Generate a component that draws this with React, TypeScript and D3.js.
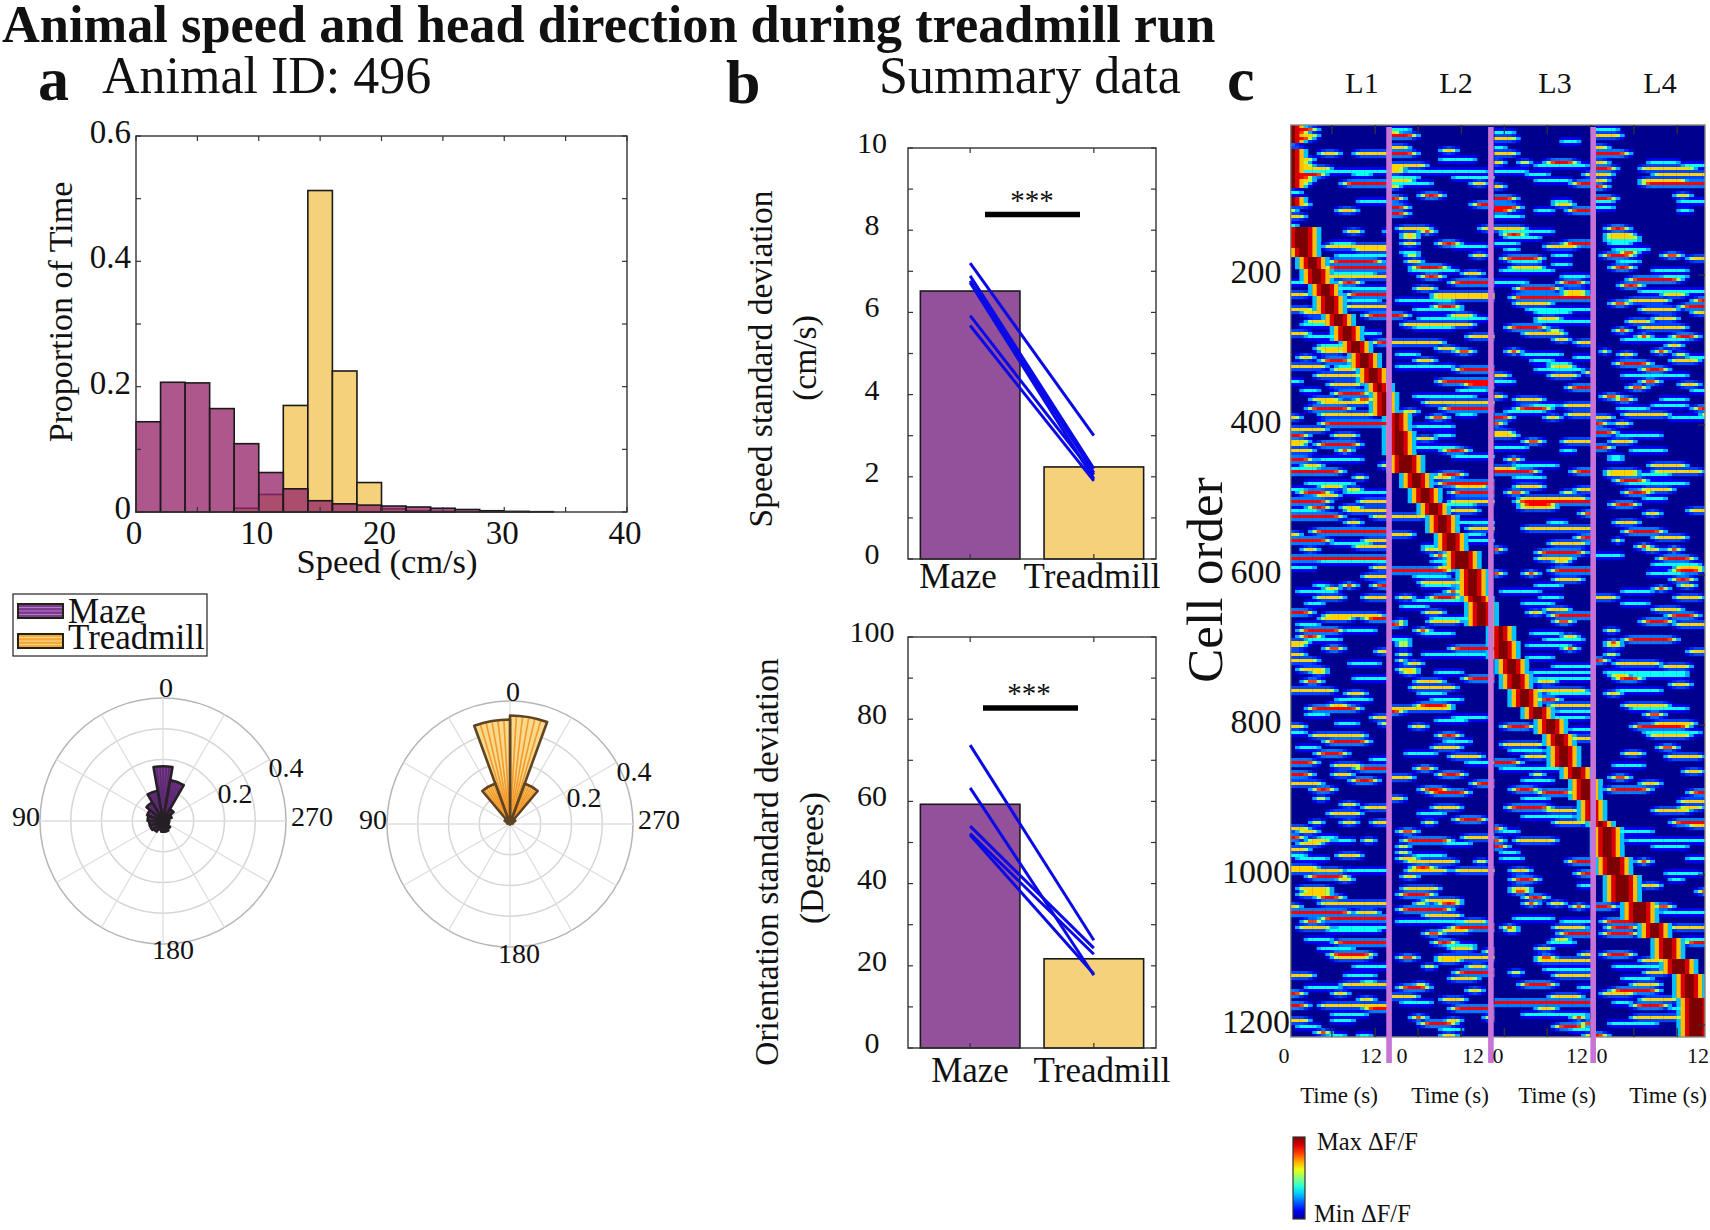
import { useMemo } from 'react'
import { scaleBand, scaleLinear, arc, lineRadial, range } from 'd3'

// Treadmill figure: speed histogram, head direction roses, summary bars and
// the sorted dF/F heatmap. All text is Liberation Serif to match the print.

const FONT = '"Liberation Serif", serif'
const INK = '#111'
const MAZE = '#93509b'
const TREAD = '#f5d27a'

const speedBins = range(0, 40, 2)
const mazeHist = [0.144, 0.207, 0.206, 0.165, 0.109, 0.063, 0.037, 0.018, 0.013, 0.011, 0.0095, 0.008, 0.006, 0.004, 0.002, 0.001, 0.0005, 0, 0, 0]
const treadHist = [0, 0, 0, 0, 0.006, 0.028, 0.17, 0.513, 0.225, 0.047, 0.005, 0.002, 0.001, 0, 0, 0, 0, 0, 0, 0]
const histXTicks = [0, 10, 20, 30, 40]
const histYTicks = [0, 0.2, 0.4, 0.6]

// rose bins: centre angle (deg, counter-clockwise from the top) and proportion
const mazeRoseAngles = [0, -20, 20, 40, -40, 60, 80, 100, 120, 140, 160, 180, -160, -140, -120, -100, -80, -60]
const mazeRose = [0.178, 0.135, 0.1, 0.07, 0.045, 0.055, 0.05, 0.045, 0.045, 0.04, 0.03, 0.035, 0.035, 0.03, 0.02, 0.02, 0.02, 0.03]
const treadRoseAngles = [-10, 10, -30, 30, -50, 50, 70, -70]
const treadRose = [0.353, 0.34, 0.14, 0.14, 0.02, 0.02, 0.01, 0.01]

const barCats = ['Maze', 'Treadmill']
const speedSdBars = [6.52, 2.24]
const speedSdStart = [7.2, 6.89, 6.77, 6.72, 5.92, 5.68]
const speedSdEnd = [3.0, 2.2, 2.1, 1.95, 2.05, 1.9]
const orientSdBars = [59.3, 21.7]
const orientSdStart = [73.7, 63.3, 54, 52.2, 51.8]
const orientSdEnd = [26.2, 17.7, 24.3, 22.8, 18]

// heatmap: 4 cells per row, 0.5 s per bin, four 12 s laps run together
const rowCount = 304
const cellTicks = [200, 400, 600, 800, 1000, 1200]
const lapEdges = [22.7, 46.2, 69.8]
const lapStarts = [0, 23, 47, 70]
const lapEnds = [22, 46, 69, 96]
const heatTicks = [9.5, 19.5, 29.4, 39.4, 49.3, 59.2, 69.2, 79.2, 89.2]

// sequence ridge: [rowStart, rowEnd, binStart, binEnd)
const ridge = [
  [0, 6, 0, 1], [8, 12, 0, 1], [12, 21, 0, 1], [24, 27, 0, 1],
  [34, 41, 1, 4], [41, 44, 2, 4], [44, 48, 4, 6], [48, 53, 5, 7], [53, 57, 7, 9], [57, 63, 8, 10], [63, 67, 10, 12], [67, 72, 12, 14],
  [72, 76, 14, 16], [76, 81, 16, 18], [81, 86, 18, 20], [86, 89, 20, 21], [89, 97, 21, 22], [96, 102, 24, 25], [102, 110, 24, 26],
  [110, 116, 25, 28], [116, 121, 28, 30], [121, 126, 30, 32], [126, 130, 32, 34], [130, 136, 34, 36], [136, 142, 36, 38], [142, 148, 38, 41],
  [148, 157, 41, 43], [157, 159, 42, 44], [159, 167, 43, 45], [167, 172, 48, 49], [172, 178, 48, 50], [178, 183, 50, 52], [183, 188, 51, 53],
  [188, 194, 53, 55], [194, 198, 56, 58], [198, 203, 59, 61], [203, 207, 61, 63], [207, 214, 62, 64], [214, 218, 65, 67], [218, 225, 67, 69],
  [225, 232, 69, 70], [232, 234, 71, 72], [234, 244, 72, 74], [244, 250, 73, 76], [250, 259, 75, 78], [259, 266, 79, 82], [266, 271, 83, 85],
  [271, 278, 86, 88], [278, 283, 88, 91], [283, 291, 91, 93], [291, 304, 92, 95],
]

// transients per lap: [row, binStart, binEnd, level] (1 cyan, 2 yellow, 3 red, 4 dark red)
const lap1 = [
  [0,0,1,4],[1,0,6,3],[2,0,4,3],[3,0,6,2],[4,0,5,3],[5,0,2,3],[8,0,3,2],[9,0,1,3],[9,6,11,2],[9,14,22,2],[10,0,1,3],[11,0,5,2],[12,0,4,2],[13,0,5,2],[14,0,9,2],[15,0,22,1],[16,0,8,3],[16,14,18,1],[17,0,5,3],[18,0,5,2],[19,0,4,2],[19,11,22,3],[20,0,1,3],[22,0,2,1],[24,0,3,1],[25,0,2,3],[25,15,22,1],[26,0,4,2],[28,0,1,2],[28,10,15,2],[30,0,3,2],[33,0,1,1],
  [35,12,16,2],[35,21,22,3],[39,9,14,1],[40,7,22,2],[41,14,22,2],[43,10,22,1],[45,8,21,3],[47,7,22,3],[49,9,19,1],[50,7,22,2],[52,10,16,3],[52,0,3,1],[54,10,22,1],[56,0,4,2],[56,12,22,3],[58,12,20,1],[60,12,22,2],[61,0,5,2],[62,2,8,2],[63,16,22,3],[65,3,9,2],[66,2,10,1],[69,0,4,2],[69,16,20,1],[70,3,10,1],[72,18,22,3],[73,6,14,1],[74,5,14,2],[75,6,12,2],[77,1,5,2],
  [78,6,14,3],[80,0,8,2],[80,10,15,1],[81,9,15,2],[83,5,16,2],[85,0,2,1],[86,8,16,2],[88,2,6,1],[89,9,18,3],[91,4,11,2],[91,14,19,3],[92,6,18,2],[94,3,14,3],[96,6,19,2],[97,0,2,2],[99,6,22,3],[101,0,8,2],[103,0,4,3],[103,9,15,2],[105,0,4,2],[106,0,3,2],[106,5,16,3],[108,0,5,2],[108,10,14,3],[111,0,5,3],[111,6,16,1],[113,2,7,2],[113,20,22,2],[114,0,6,1],[115,0,12,3],[117,14,17,2],[119,3,14,1],[120,6,12,2],[121,12,16,2],[121,0,3,1],[122,1,9,3],[122,12,22,1],[123,5,11,2],[125,0,9,3],[125,15,22,2],[127,3,9,3],[127,11,16,2],[128,0,6,1],[128,12,22,2],[130,0,12,3],[130,18,22,2],[132,12,16,2],[135,4,22,3],[136,0,2,2],[138,0,9,3],[138,16,22,2],[139,9,18,1],[140,14,22,2],[141,2,6,2],[144,0,22,3],[145,6,22,1],[147,0,5,1],[147,18,22,2],[150,16,22,2],[153,11,15,3],[153,18,22,3],[153,5,8,1],[154,7,11,2],[155,1,10,1],
  [157,5,12,2],[157,16,22,2],[159,3,7,1],[162,0,5,3],[163,7,21,2],[164,6,14,2],[164,16,22,3],[166,1,6,1],[168,1,12,3],[168,12,19,1],[170,1,7,3],[171,3,11,1],[172,0,4,2],[173,0,3,2],[174,7,12,3],[175,19,22,2],[176,0,3,2],[178,0,6,2],[179,13,20,1],[181,1,8,2],[182,4,8,2],[184,14,22,1],[185,2,7,3],[188,0,10,2],[189,12,17,2],[191,10,18,1],[193,8,13,2],[194,3,16,3],[196,3,8,1],[197,18,22,2],[199,10,15,1],[199,20,22,2],[200,0,3,2],[202,0,3,1],[203,4,17,2],[205,7,18,3],[207,1,6,1],[209,5,13,3],[211,18,22,1],[212,0,6,3],[213,9,16,2],[214,14,22,3],[216,0,5,3],[216,9,14,2],[218,13,20,3],[219,0,7,2],[221,4,10,3],[224,5,8,2],[226,11,15,2],[227,16,22,2],[229,8,16,2],[232,4,7,2],[232,11,15,2],[232,18,22,2],[234,0,4,2],
  [235,1,6,2],[237,0,3,3],[237,6,10,1],[238,3,9,2],[238,16,19,3],[238,10,14,1],[239,1,7,2],[241,0,4,2],[243,10,16,2],[243,0,3,1],[244,1,8,1],[247,0,6,2],[248,0,12,2],[248,12,22,1],[250,3,13,3],[251,10,14,2],[254,1,9,2],[255,2,9,2],[256,1,9,2],[257,5,12,3],[259,6,22,2],[260,0,2,2],[262,0,14,3],[262,14,20,2],[264,6,22,3],[265,2,7,3],[267,1,9,2],[267,10,22,1],[268,8,20,1],[271,3,9,1],[272,9,22,3],[274,6,14,1],[276,8,19,3],[277,9,18,2],[280,14,22,1],[283,0,5,2],[283,12,19,1],[285,16,19,1],[286,11,22,2],[287,3,11,1],[289,0,3,3],[289,9,13,2],[291,15,19,2],[293,0,4,3],[293,6,22,2],[294,16,22,3],[296,9,17,1],[298,0,4,2],[298,9,14,1],[300,1,6,1],[302,5,9,3],[303,8,12,1],[303,15,18,1],
]
const lap2 = [
  [1,23,27,1],[2,23,25,2],[3,23,29,3],[7,23,27,2],[8,34,38,2],[9,23,29,3],[11,34,42,1],[13,23,31,2],[14,23,26,2],[15,23,26,2],[15,26,45,1],[17,23,29,1],[17,37,46,1],[18,23,28,2],[19,23,32,1],[19,41,45,2],[20,23,25,2],[23,29,35,3],[24,23,26,3],[26,41,46,3],[27,23,27,3],[29,23,27,3],
  [34,24,32,2],[34,43,46,2],[35,29,33,3],[36,25,29,2],[37,25,29,2],[39,25,29,2],[39,33,39,3],[40,37,45,1],[42,25,29,1],[43,26,29,3],[43,41,45,2],[45,26,30,2],[47,27,36,3],[48,27,38,1],[49,39,44,2],[50,29,35,3],[52,36,46,3],[54,28,33,2],[56,32,46,2],[57,32,46,2],[58,24,37,1],[60,32,39,3],[61,28,39,1],[63,23,27,3],[63,36,42,2],[64,29,45,1],[66,25,42,2],[67,28,37,1],[70,40,46,2],[72,23,35,2],[74,33,38,2],[75,37,42,3],[76,24,29,1],
  [78,28,33,2],[80,24,37,1],[81,37,46,3],[85,33,46,3],[86,39,46,3],[88,38,45,1],[90,28,42,1],[92,30,46,2],[94,34,46,3],[95,25,29,2],[96,38,42,1],[97,31,36,3],[100,28,37,1],[103,33,37,1],[104,28,33,2],[107,28,38,1],[108,34,41,3],[110,37,46,1],[116,33,40,3],[114,23,25,2],[117,32,37,2],[119,33,46,3],[120,37,45,2],[122,36,46,3],[125,36,46,2],[126,35,42,1],[128,36,43,2],[130,23,31,2],[132,38,46,1],[134,40,46,2],[136,23,28,2],[136,40,44,1],[138,40,46,1],[140,30,33,1],[141,30,34,2],[143,32,36,3],[145,32,38,1],[147,33,39,2],[148,23,37,3],[150,28,36,1],[152,29,39,2],[153,30,37,1],[155,35,39,3],
  [157,24,28,2],[157,31,39,3],[158,28,39,1],[160,25,31,1],[162,30,35,2],[164,32,41,1],[165,31,39,2],[165,24,26,2],[166,23,26,3],[168,28,32,3],[169,30,37,1],[171,23,27,1],[172,24,27,2],[173,24,27,2],[174,36,46,3],[176,24,27,2],[176,30,45,1],[178,24,26,3],[179,26,30,2],[181,24,29,2],[182,25,29,2],[182,33,39,1],[184,39,46,3],[185,28,35,2],[187,27,38,2],[189,29,35,1],[191,32,39,1],[193,28,37,3],[194,23,37,2],[195,23,26,3],[197,37,45,1],[198,33,40,1],[200,27,31,2],[203,33,39,3],[205,35,41,1],[207,32,39,2],[209,26,33,1],[210,36,44,2],[212,40,46,1],[214,28,33,3],[216,33,40,3],[217,23,28,2],[219,41,46,3],[221,29,36,3],[222,31,41,3],[224,23,26,2],[227,32,39,2],[229,29,35,1],[231,37,45,3],[232,30,33,3],
  [235,24,29,3],[237,39,46,2],[238,25,37,3],[239,35,41,1],[240,24,27,3],[242,24,27,3],[243,28,35,1],[244,24,29,2],[245,26,38,2],[245,42,45,2],[247,27,33,3],[248,26,36,2],[248,37,46,2],[250,25,29,2],[254,25,34,2],[256,24,33,3],[258,30,39,2],[259,28,31,2],[259,33,39,3],[261,24,37,3],[263,30,39,2],[265,24,45,1],[265,39,45,2],[267,36,46,3],[268,34,41,2],[269,30,35,3],[272,32,38,3],[273,35,42,1],[274,36,42,2],[275,44,46,3],[277,24,29,3],[277,33,46,2],[278,33,39,2],[280,30,33,2],[280,40,45,2],[282,37,46,3],[284,36,43,2],[286,28,31,2],[287,24,32,3],[288,40,44,2],[290,23,29,2],[291,34,40,2],[292,25,32,1],[294,36,46,3],[297,27,31,3],[297,44,46,3],[298,35,39,2],[299,29,38,3],[301,34,39,1],[303,34,38,2],
]
const lap3 = [
  [2,47,51,1],[4,47,52,2],[5,62,66,1],[7,47,49,1],[9,47,52,2],[12,47,49,2],[12,52,55,2],[12,58,66,3],[13,56,68,1],[15,47,54,1],[16,54,59,1],[16,67,69,3],[18,56,64,1],[19,64,69,3],[20,47,49,2],[24,47,52,3],[25,60,64,1],[26,60,65,2],[27,47,53,3],[28,47,51,3],[28,56,60,1],[28,63,69,3],[30,47,53,1],
  [34,47,54,2],[35,48,60,1],[36,48,54,3],[37,49,57,1],[39,62,69,3],[39,47,52,1],[40,58,66,2],[41,49,52,1],[43,60,64,1],[44,48,58,3],[45,50,57,1],[46,60,64,1],[47,50,58,2],[48,48,60,1],[50,62,68,1],[52,61,68,3],[52,47,54,1],[54,51,62,3],[56,62,68,2],[55,62,68,2],[57,50,69,3],[59,51,60,2],[61,54,69,1],[62,56,64,1],[64,56,62,2],[65,56,69,1],[67,49,59,3],[68,59,62,3],[69,53,63,2],[71,60,64,2],[72,65,69,2],[75,49,53,3],[76,53,62,1],[77,65,69,1],
  [78,55,60,1],[79,59,64,1],[80,59,65,2],[81,56,67,1],[82,67,69,3],[83,47,50,2],[83,59,66,2],[85,47,51,1],[87,63,69,3],[90,47,49,2],[91,51,58,2],[93,55,61,1],[93,62,69,2],[94,51,60,3],[95,49,58,1],[96,63,69,2],[97,58,62,2],[97,47,51,3],[99,47,49,3],[102,47,51,2],[103,47,52,2],[105,53,58,3],[105,62,69,2],[107,47,54,1],[108,62,65,1],[111,49,53,3],[113,51,61,1],[114,47,52,2],[115,47,57,3],[115,64,69,3],[117,51,58,1],[120,51,58,2],[121,65,69,2],[122,49,54,3],[122,62,65,3],[124,52,68,2],[125,51,69,3],[126,52,61,3],[127,52,61,2],[129,66,69,3],[132,59,63,1],[134,53,69,2],[137,65,69,3],[139,59,68,2],[141,47,49,3],[142,56,68,3],[144,56,65,2],[145,60,64,2],[148,59,69,3],[149,47,49,3],[149,53,57,3],[151,60,67,2],[153,56,62,1],[155,48,57,1],
  [157,57,62,1],[159,53,60,1],[161,58,64,2],[162,54,58,2],[163,59,69,3],[165,60,65,3],[169,55,62,1],[170,62,66,2],[171,58,67,1],[173,54,64,1],[174,62,66,3],[177,54,60,1],[180,60,69,1],[182,55,69,1],[184,56,69,1],[185,56,61,2],[188,56,68,2],[189,59,69,1],[191,56,62,3],[193,59,69,2],[195,61,69,1],[197,60,68,1],[200,48,56,3],[201,64,69,1],[204,64,69,2],[206,48,58,2],[208,50,58,1],[210,53,59,2],[212,47,53,3],[214,48,62,1],[216,55,58,2],[218,53,60,1],[221,50,57,3],[222,56,65,3],[224,53,59,1],[227,49,60,3],[228,58,66,2],[230,53,65,1],[232,60,68,2],[234,47,49,3],
  [235,48,52,1],[238,51,61,2],[238,47,49,3],[240,47,50,3],[242,48,52,1],[244,48,53,1],[245,63,69,3],[248,50,55,2],[249,65,69,3],[251,50,57,3],[253,66,69,1],[254,50,55,2],[255,50,55,3],[257,53,59,3],[259,53,57,3],[259,59,63,2],[260,64,68,3],[264,51,60,1],[265,62,69,1],[267,48,52,3],[267,60,68,2],[268,49,52,2],[269,61,69,3],[271,60,64,2],[272,59,65,1],[274,56,60,2],[276,66,69,2],[277,56,61,3],[278,56,69,2],[281,58,69,1],[282,50,53,3],[283,60,69,2],[286,52,61,3],[287,66,69,1],[290,59,67,2],[292,47,69,3],[294,56,61,2],[296,53,68,1],[297,64,68,3],[299,66,69,3],[300,60,68,3],[301,64,69,1],[303,67,69,2],
]
const lap4 = [
  [1,70,75,1],[3,70,76,2],[7,70,73,2],[9,70,78,3],[12,70,73,2],[12,82,89,1],[13,90,96,1],[14,70,75,3],[14,80,93,2],[16,70,74,2],[16,83,96,2],[18,70,73,2],[18,80,91,2],[19,80,96,3],[20,70,73,3],[23,88,92,2],[24,70,75,3],[25,70,74,1],[25,89,96,1],[27,70,74,1],[28,89,92,1],
  [34,72,78,3],[36,72,79,2],[37,72,80,2],[38,72,80,1],[39,73,78,1],[41,74,82,1],[42,75,80,3],[43,71,79,3],[43,85,90,3],[44,91,96,2],[45,75,80,1],[47,73,79,3],[48,83,91,1],[50,85,91,1],[51,77,90,3],[53,75,81,3],[55,80,96,1],[56,85,91,2],[58,77,87,2],[58,92,96,3],[59,73,78,3],[60,89,96,3],[61,80,89,2],[62,92,96,2],[64,83,89,2],[65,77,83,2],[67,80,91,2],[68,74,78,3],[70,87,94,3],[70,79,83,3],[71,76,91,1],[73,86,90,2],[75,83,87,3],[75,71,73,3],[76,75,79,2],[76,88,91,2],[77,91,96,1],
  [78,87,94,2],[79,74,83,3],[81,80,87,3],[83,76,91,1],[85,80,85,3],[86,89,94,2],[87,77,82,3],[88,92,96,1],[90,71,76,3],[91,74,79,3],[91,85,91,1],[93,83,91,1],[94,75,82,1],[94,92,96,3],[96,76,87,2],[96,94,96,3],[97,70,74,2],[97,87,96,1],[99,70,73,3],[99,74,78,2],[102,70,75,3],[103,75,85,1],[105,73,79,2],[107,70,74,3],[108,78,86,1],[110,73,76,1],[111,73,76,1],[113,82,91,2],[115,72,80,2],[116,72,80,2],[115,83,95,2],[116,80,87,1],[118,74,82,3],[119,77,91,1],[121,80,88,2],[122,76,83,3],[124,81,86,1],[126,73,80,3],[128,91,96,2],[129,81,85,2],[132,74,80,2],[135,76,86,3],[137,83,91,2],[138,74,76,2],[140,79,83,3],[141,81,85,2],[141,86,90,3],[143,70,76,1],[144,84,93,3],[146,83,94,1],[148,87,95,3],[147,88,95,2],[149,82,90,1],[151,87,93,3],[153,89,93,2],[154,83,87,3],[155,76,83,1],
  [157,70,75,2],[157,88,95,2],[159,76,82,1],[161,83,90,2],[163,86,94,3],[165,80,88,3],[166,88,96,2],[168,72,75,3],[171,76,89,3],[172,72,76,3],[173,72,76,2],[175,91,96,2],[176,72,75,3],[178,70,73,3],[179,74,85,2],[180,85,92,2],[182,72,91,1],[183,73,78,2],[183,78,91,1],[184,74,81,3],[186,87,92,2],[188,75,85,1],[189,72,76,2],[193,76,87,2],[194,78,91,1],[196,81,86,3],[199,83,93,2],[200,78,92,3],[202,81,94,1],[203,82,92,2],[207,84,89,3],[209,76,81,2],[210,86,95,2],[213,74,81,1],[215,90,95,2],[217,73,78,3],[219,80,85,2],[221,72,83,3],[222,91,96,3],[225,89,96,2],[227,89,95,2],[228,83,92,2],[232,87,96,3],[233,91,96,2],
  [235,75,83,1],[238,77,96,1],[240,83,91,1],[245,79,83,3],[244,91,96,1],[249,86,94,1],[251,87,90,1],[253,80,85,2],[255,93,96,3],[260,70,75,3],[260,83,88,3],[262,85,96,1],[265,71,81,3],[267,72,80,3],[267,87,96,2],[269,71,80,3],[271,90,96,1],[272,90,96,3],[276,71,79,3],[278,80,86,2],[280,74,85,1],[282,81,87,2],[284,76,83,1],[286,78,85,2],[288,73,85,3],[289,71,79,2],[291,80,89,2],[292,74,78,1],[293,78,87,3],[294,87,91,1],[297,78,90,2],[299,73,84,1],[303,70,73,3],
]

const levelPeak = [0, 0.37, 0.66, 0.86, 1]
const jet = scaleLinear<string>()
  .domain([0, 0.11, 0.36, 0.62, 0.86, 1])
  .range(['#00008f', '#0000ff', '#00ffff', '#ffff00', '#ff0000', '#7f0000'])

function buildHeat() {
  const grid = range(rowCount).map(() => new Array(96).fill(0))
  const put = (r: number, b: number, v: number) => {
    if (r >= 0 && r < rowCount && b >= 0 && b < 96) grid[r][b] = Math.max(grid[r][b], v)
  }
  for (const [r, b0, b1, lvl] of [...lap1, ...lap2, ...lap3, ...lap4]) {
    const openLeft = lapStarts.includes(b0)
    const openRight = lapEnds.includes(b1)
    for (let b = b0; b <= b1; b++) {
      const d = Math.min(openLeft ? 99 : b - b0, openRight ? 99 : b1 - b)
      const v = Math.min(levelPeak[lvl], 0.28 + 0.26 * d)
      put(r, b, v)
      // the image was resampled: each transient bleeds a little into its neighbours
      put(r - 1, b, v * 0.27)
      put(r + 1, b, v * 0.27)
    }
  }
  const halo = [1, 0.9, 0.68, 0.3]
  for (const [r0, r1, b0, b1] of ridge) {
    for (let r = r0; r < r1; r++) {
      for (let b = b0 - 3; b < b1 + 3; b++) {
        const d = b < b0 ? b0 - b : b >= b1 ? b - b1 + 1 : 0
        put(r, b, halo[d])
      }
    }
  }
  return grid
}

function Txt({ x, y, size, anchor = 'middle', weight, rotate, children }: any) {
  return (
    <text
      x={x}
      y={y}
      fontSize={size}
      textAnchor={anchor}
      fontWeight={weight}
      fill={INK}
      transform={rotate ? `rotate(${rotate}, ${x}, ${y})` : undefined}
    >
      {children}
    </text>
  )
}

function Histogram() {
  const x = scaleLinear().domain([0, 40]).range([136, 627])
  const y = scaleLinear().domain([0, 0.6]).range([512, 136])
  return (
    <g>
      {treadHist.map((v, i) => (
        <rect key={i} x={x(speedBins[i])} y={y(v)} width={x(2) - x(0)} height={y(0) - y(v)} fill={TREAD} stroke="#1a1a1a" strokeWidth={1.6} />
      ))}
      {mazeHist.map((v, i) => (
        <rect key={i} x={x(speedBins[i])} y={y(v)} width={x(2) - x(0)} height={y(0) - y(v)} fill="#95246a" fillOpacity={0.77} stroke="#1a1a1a" strokeWidth={1.6} />
      ))}
      <rect x={136} y={136} width={491} height={376} fill="none" stroke="#333" strokeWidth={1.4} />
      {range(0, 45, 5).map((t) => (
        <g key={t} stroke="#333" strokeWidth={1.2}>
          <line x1={x(t)} x2={x(t)} y1={512} y2={507} />
          <line x1={x(t)} x2={x(t)} y1={136} y2={141} />
        </g>
      ))}
      {range(0, 0.65, 0.1).map((t) => (
        <g key={t} stroke="#333" strokeWidth={1.2}>
          <line x1={136} x2={141} y1={y(t)} y2={y(t)} />
          <line x1={627} x2={622} y1={y(t)} y2={y(t)} />
        </g>
      ))}
      {histXTicks.map((t) => (
        <Txt key={t} x={x(t) - 2} y={544} size={33}>{t}</Txt>
      ))}
      {histYTicks.map((t) => (
        <Txt key={t} x={131} y={y(t) + 7} size={33} anchor="end">{t}</Txt>
      ))}
      <Txt x={387} y={573} size={34.5}>Speed (cm/s)</Txt>
      <Txt x={72} y={312} size={34} rotate={-90}>Proportion of Time</Txt>
    </g>
  )
}

function Legend() {
  const rows = [
    { label: 'Maze', fill: '#7c3b91', stripe: '#b07fc0', top: 604, base: 623 },
    { label: 'Treadmill', fill: '#f5a93a', stripe: '#fad98f', top: 634, base: 649 },
  ]
  return (
    <g>
      <rect x={13} y={594} width={194} height={62} fill="#fff" stroke="#222" strokeWidth={1.2} />
      {rows.map((r) => (
        <g key={r.label}>
          <rect x={18} y={r.top} width={45} height={14} fill={r.fill} stroke="#221" strokeWidth={2} />
          {[3.5, 7, 10.5].map((o) => (
            <line key={o} x1={19} x2={62} y1={r.top + o} y2={r.top + o} stroke={r.stripe} strokeWidth={1} />
          ))}
          <Txt x={68} y={r.base} size={35} anchor="start">{r.label}</Txt>
        </g>
      ))}
    </g>
  )
}

function Rose({ cx, cy, angles, values, fill, stripe, edge, labels }: any) {
  const R = 123
  const r = scaleLinear().domain([0, 0.4]).range([0, R])
  const wedge = arc<any>()
  const spoke = lineRadial<any>()
  return (
    <g>
      <g transform={`translate(${cx},${cy})`}>
        {[0.4, 0.3, 0.2, 0.1].map((t) => (
          <circle key={t} r={r(t)} fill="none" stroke={t === 0.4 ? '#b5b5b5' : '#d6d6d6'} strokeWidth={1.5} />
        ))}
        {range(0, 360, 30).map((a) => (
          <line
            key={a}
            x2={R * Math.sin((a * Math.PI) / 180)}
            y2={-R * Math.cos((a * Math.PI) / 180)}
            stroke="#dedede"
            strokeWidth={1.3}
          />
        ))}
        {values.map((v: number, i: number) => {
          const a = (-angles[i] * Math.PI) / 180
          const half = (10 * Math.PI) / 180
          const d = wedge({ innerRadius: 0, outerRadius: r(v), startAngle: a - half, endAngle: a + half })
          return (
            <g key={i}>
              <path d={d ?? ''} fill={fill} />
              {[-0.66, -0.33, 0, 0.33, 0.66].map((o) => (
                <path
                  key={o}
                  d={spoke([[a + o * half, 0], [a + o * half, r(v)]]) ?? ''}
                  stroke={stripe}
                  strokeWidth={1.6}
                  fill="none"
                />
              ))}
              <path d={d ?? ''} fill="none" stroke={edge} strokeWidth={2.6} strokeLinejoin="round" />
            </g>
          )
        })}
      </g>
      {labels.map((l: any) => (
        <Txt key={l.text} x={l.x} y={l.y + 10} size={28}>{l.text}</Txt>
      ))}
    </g>
  )
}

function SummaryBars({ top, bottom, max, step, labelStep, bars, start, end, sigY, sigX, starY, starX, labelX, catX, catY, title1, title2, t1x, t2x, ty }: any) {
  const x = scaleBand().domain(barCats).range([908, 1156]).paddingInner(0.195).paddingOuter(0.1)
  const y = scaleLinear().domain([0, max]).range([bottom, top])
  const mid = (c: string) => (x(c) ?? 0) + x.bandwidth() / 2
  return (
    <g>
      {barCats.map((c, i) => (
        <rect key={c} x={x(c)} y={y(bars[i])} width={x.bandwidth()} height={bottom - y(bars[i])} fill={i === 0 ? MAZE : TREAD} stroke="#1a1a1a" strokeWidth={1.6} />
      ))}
      <rect x={908} y={top} width={248} height={bottom - top} fill="none" stroke="#333" strokeWidth={1.4} />
      {range(0, max + step / 2, step).map((t) => (
        <g key={t} stroke="#333" strokeWidth={1.2}>
          <line x1={908} x2={913} y1={y(t)} y2={y(t)} />
          <line x1={1156} x2={1151} y1={y(t)} y2={y(t)} />
        </g>
      ))}
      {barCats.map((c) => (
        <g key={c} stroke="#333" strokeWidth={1.2}>
          <line x1={mid(c)} x2={mid(c)} y1={bottom} y2={bottom - 5} />
          <line x1={mid(c)} x2={mid(c)} y1={top} y2={top + 5} />
        </g>
      ))}
      {start.map((s: number, i: number) => (
        <line key={i} x1={mid('Maze')} x2={mid('Treadmill')} y1={y(s)} y2={y(end[i])} stroke="#0a0ae6" strokeWidth={3} />
      ))}
      <line x1={sigX[0]} x2={sigX[1]} y1={sigY} y2={sigY} stroke="#000" strokeWidth={5.5} />
      <Txt x={starX} y={starY} size={29}>***</Txt>
      {range(0, max + labelStep / 2, labelStep).map((t) => (
        <Txt key={t} x={labelX} y={y(t) + 5} size={30}>{t}</Txt>
      ))}
      {barCats.map((c, i) => (
        <Txt key={c} x={catX[i]} y={catY} size={35}>{c}</Txt>
      ))}
      <Txt x={t1x} y={ty[0]} size={33.5} rotate={-90}>{title1}</Txt>
      <Txt x={t2x} y={ty[1]} size={33.5} rotate={-90}>{title2}</Txt>
    </g>
  )
}

function Heatmap() {
  const grid = useMemo(buildHeat, [])
  const x = scaleLinear().domain([0, 96]).range([1290.7, 1706.7])
  const cellY = scaleLinear().domain([0, rowCount * 4]).range([125, 1037])
  const h = cellY(4) - cellY(0)
  const w = x(1) - x(0)
  const tickLabels = [
    { t: '0', x: 1284 }, { t: '12', x: 1371 }, { t: '0', x: 1402 }, { t: '12', x: 1473 },
    { t: '0', x: 1498 }, { t: '12', x: 1577 }, { t: '0', x: 1602 }, { t: '12', x: 1698 },
  ]
  return (
    <g>
      <defs>
        <clipPath id="heat-clip"><rect x={1290.7} y={125} width={414.3} height={912} /></clipPath>
        <filter id="heat-soft" x="0" y="0" width="1" height="1"><feGaussianBlur stdDeviation="0.6" /></filter>
        <linearGradient id="jet-bar" x1="0" x2="0" y1="1" y2="0">
          {range(0, 1.01, 0.1).map((t) => <stop key={t} offset={t} stopColor={jet(t)} />)}
        </linearGradient>
      </defs>
      <g clipPath="url(#heat-clip)">
        <g filter="url(#heat-soft)">
          <rect x={1290.7} y={125} width={414.3} height={912} fill={jet(0)} />
          {grid.map((row, r) =>
            row.map((v: number, b: number) =>
              v > 0 ? <rect key={`${r}-${b}`} x={x(b)} y={cellY(r * 4)} width={w + 0.3} height={h + 0.2} fill={jet(v)} /> : null,
            ),
          )}
        </g>
      </g>
      <rect x={1290.7} y={125} width={414.3} height={912} fill="none" stroke="#8a8a80" strokeWidth={1.4} />
      {heatTicks.map((t) => (
        <g key={t} stroke="#333" strokeWidth={1.3}>
          <line x1={x(t)} x2={x(t)} y1={125} y2={134} />
          <line x1={x(t)} x2={x(t)} y1={1037} y2={1028} />
        </g>
      ))}
      {cellTicks.map((t) => (
        <g key={t}>
          <line x1={1705} x2={1698} y1={cellY(t)} y2={cellY(t)} stroke="#333" strokeWidth={1.2} />
          <Txt x={1256} y={cellY(t) + 8} size={34}>{t}</Txt>
        </g>
      ))}
      {lapEdges.map((b) => (
        <rect key={b} x={x(b) - 2.8} y={127} width={5.6} height={936} fill="#c774d6" />
      ))}
      {tickLabels.map((l, i) => (
        <Txt key={i} x={l.x} y={1063} size={22}>{l.t}</Txt>
      ))}
      {[1339, 1450, 1557, 1668].map((cx) => (
        <Txt key={cx} x={cx} y={1103} size={23}>Time (s)</Txt>
      ))}
      {[['L1', 1362], ['L2', 1456], ['L3', 1555], ['L4', 1660]].map(([t, cx]) => (
        <Txt key={t} x={cx} y={93} size={30}>{t}</Txt>
      ))}
      <Txt x={1222} y={580} size={51} rotate={-90}>Cell order</Txt>
      <rect x={1293} y={1137} width={12} height={82} fill="url(#jet-bar)" stroke="#333" strokeWidth={1.2} />
      <Txt x={1317} y={1150} size={24.5} anchor="start">Max ΔF/F</Txt>
      <Txt x={1314} y={1222} size={24.5} anchor="start">Min ΔF/F</Txt>
    </g>
  )
}

export default function App() {
  return (
    <svg
      width={1710}
      height={1230}
      viewBox="0 0 1710 1230"
      style={{ position: 'absolute', left: 0, top: 0, background: '#fff', fontFamily: FONT }}
    >
      <Txt x={2} y={42} size={52.4} anchor="start" weight="bold">
        Animal speed and head direction during treadmill run
      </Txt>
      <Txt x={38} y={100} size={62} anchor="start" weight="bold">a</Txt>
      <Txt x={726} y={103} size={62} anchor="start" weight="bold">b</Txt>
      <Txt x={1227} y={100} size={62} anchor="start" weight="bold">c</Txt>
      <Txt x={102} y={93} size={52} anchor="start">Animal ID: 496</Txt>
      <Txt x={879} y={93} size={52} anchor="start">Summary data</Txt>

      <Histogram />
      <Legend />
      <Rose
        cx={163}
        cy={821}
        angles={mazeRoseAngles}
        values={mazeRose}
        fill="#7c3b91"
        stripe="#5b2a70"
        edge="#262026"
        labels={[
          { text: '0', x: 166, y: 687 }, { text: '0.4', x: 286, y: 767 }, { text: '0.2', x: 235, y: 793 },
          { text: '90', x: 26, y: 816 }, { text: '270', x: 312, y: 816 }, { text: '180', x: 173, y: 949 },
        ]}
      />
      <Rose
        cx={510}
        cy={824}
        angles={treadRoseAngles}
        values={treadRose}
        fill="#f9d98b"
        stripe="#f39a2c"
        edge="#5f4424"
        labels={[
          { text: '0', x: 513, y: 691 }, { text: '0.4', x: 634, y: 771 }, { text: '0.2', x: 584, y: 797 },
          { text: '90', x: 373, y: 819 }, { text: '270', x: 659, y: 819 }, { text: '180', x: 519, y: 953 },
        ]}
      />
      <SummaryBars
        top={148}
        bottom={559}
        max={10}
        step={1}
        labelStep={2}
        bars={speedSdBars}
        start={speedSdStart}
        end={speedSdEnd}
        sigY={214.5}
        sigX={[985, 1080]}
        starY={210}
        starX={1032}
        labelX={872}
        catX={[958, 1092]}
        catY={588}
        title1="Speed standard deviation"
        title2="(cm/s)"
        t1x={772}
        t2x={816}
        ty={[359, 358]}
      />
      <SummaryBars
        top={637}
        bottom={1048}
        max={100}
        step={10}
        labelStep={20}
        bars={orientSdBars}
        start={orientSdStart}
        end={orientSdEnd}
        sigY={708}
        sigX={[983, 1078]}
        starY={703}
        starX={1029}
        labelX={872}
        catX={[970, 1102]}
        catY={1082}
        title1="Orientation standard deviation"
        title2="(Degrees)"
        t1x={778}
        t2x={823}
        ty={[862, 858]}
      />
      <Heatmap />
    </svg>
  )
}
